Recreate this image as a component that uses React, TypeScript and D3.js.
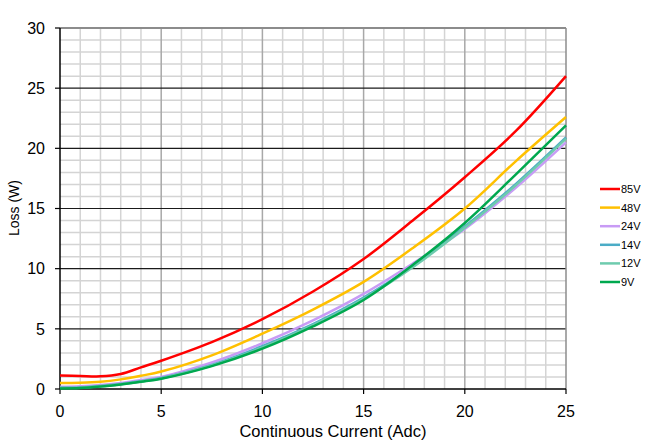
import React from "react";
import * as d3 from "d3";

const currents = [0, 1, 2, 3, 4, 5, 7.5, 10, 12.5, 15, 17.5, 20, 22.5, 25];
const loss85V = [1.12, 1.08, 1.05, 1.25, 1.8, 2.35, 3.9, 5.8, 8.1, 10.8, 14.1, 17.6, 21.4, 26.0];
const loss48V = [0.5, 0.52, 0.6, 0.8, 1.1, 1.45, 2.8, 4.6, 6.6, 8.9, 11.8, 15.0, 18.9, 22.6];
const loss24V = [0.18, 0.22, 0.33, 0.5, 0.75, 1.0, 2.2, 3.8, 5.7, 7.9, 10.5, 13.3, 16.7, 20.5];
const loss14V = [0.1, 0.13, 0.25, 0.42, 0.65, 0.92, 2.0, 3.55, 5.4, 7.6, 10.3, 13.5, 17.0, 20.9];
const loss12V = [0.08, 0.11, 0.22, 0.4, 0.62, 0.88, 1.95, 3.45, 5.3, 7.5, 10.2, 13.4, 16.9, 20.8];
const loss9V = [0.05, 0.08, 0.2, 0.38, 0.6, 0.85, 1.9, 3.35, 5.2, 7.4, 10.4, 13.8, 17.8, 21.9];

const seriesNames = ["85V", "48V", "24V", "14V", "12V", "9V"];
const seriesValues = [loss85V, loss48V, loss24V, loss14V, loss12V, loss9V];
const seriesColors = ["#FF0000", "#FFC000", "#C89BF5", "#4BACC6", "#6ECBAE", "#00A84F"];

const xTicks = [0, 5, 10, 15, 20, 25];
const yTicks = [0, 5, 10, 15, 20, 25, 30];

export default function App() {
  const W = 654, H = 444;
  const left = 60, right = 566, top = 28, bottom = 389;
  const x = d3.scaleLinear().domain([0, 25]).range([left, right]);
  const y = d3.scaleLinear().domain([0, 30]).range([bottom, top]);
  const minorX = d3.range(1, 25).filter((v) => v % 5 !== 0);
  const minorY = d3.range(1, 30).filter((v) => v % 5 !== 0);
  const majorX = [5, 10, 15, 20];
  const majorY = [5, 10, 15, 20, 25];
  const line = d3
    .line<number>()
    .x((_, i) => x(currents[i]))
    .y((d) => y(d))
    .curve(d3.curveCatmullRom.alpha(0.5));
  const font = "'Liberation Sans', Arial, sans-serif";

  return (
    <svg width={W} height={H} style={{ position: "absolute", left: 0, top: 0 }} fontFamily={font}>
      <rect width={W} height={H} fill="#fff" />
      {minorX.map((v) => (
        <line key={"mx" + v} x1={x(v)} x2={x(v)} y1={top} y2={bottom} stroke="#d4d4d4" strokeWidth={1.5} />
      ))}
      {minorY.map((v) => (
        <line key={"my" + v} x1={left} x2={right} y1={y(v)} y2={y(v)} stroke="#d4d4d4" strokeWidth={1.5} />
      ))}
      {majorX.map((v) => (
        <line key={"Mx" + v} x1={x(v)} x2={x(v)} y1={top} y2={bottom} stroke="#a8a8a8" strokeWidth={1.5} />
      ))}
      {majorY.map((v) => (
        <line key={"My" + v} x1={left} x2={right} y1={y(v)} y2={y(v)} stroke="#1a1a1a" strokeWidth={1.2} />
      ))}
      <line x1={left} x2={right} y1={top} y2={top} stroke="#8c8c8c" strokeWidth={2} />
      <line x1={right} x2={right} y1={top} y2={bottom} stroke="#8c8c8c" strokeWidth={1.5} />
      <line x1={left} x2={left} y1={top} y2={bottom} stroke="#000" strokeWidth={1.5} />
      <line x1={left} x2={right} y1={bottom} y2={bottom} stroke="#000" strokeWidth={1.5} />
      {yTicks.map((v) => (
        <g key={"yt" + v}>
          <line x1={left - 5} x2={left} y1={y(v)} y2={y(v)} stroke="#000" strokeWidth={1.2} />
          <text x={45} y={y(v)} dy="0.36em" textAnchor="end" fontSize={16} fill="#000">
            {v}
          </text>
        </g>
      ))}
      {xTicks.map((v) => (
        <g key={"xt" + v}>
          <line x1={x(v)} x2={x(v)} y1={bottom} y2={bottom + 5} stroke="#000" strokeWidth={1.2} />
          <text x={x(v)} y={417} textAnchor="middle" fontSize={16} fill="#000">
            {v}
          </text>
        </g>
      ))}
      <text x={333} y={437} textAnchor="middle" fontSize={16.5} fill="#000">
        Continuous Current (Adc)
      </text>
      <text transform="translate(19,208) rotate(-90)" textAnchor="middle" fontSize={14} fill="#000">
        Loss (W)
      </text>
      <g clipPath="url(#plotclip)">
        {seriesValues.map((vals, i) => (
          <path key={seriesNames[i]} d={line(vals) || ""} fill="none" stroke={seriesColors[i]} strokeWidth={2.5} />
        ))}
      </g>
      <defs>
        <clipPath id="plotclip">
          <rect x={left} y={top} width={right - left + 1} height={bottom - top + 2} />
        </clipPath>
      </defs>
      {seriesNames.map((n, i) => {
        const ly = 189 + i * 18.6;
        return (
          <g key={"lg" + n}>
            <line x1={600} x2={620} y1={ly} y2={ly} stroke={seriesColors[i]} strokeWidth={2.5} />
            <text x={621} y={ly} dy="0.36em" fontSize={11} fill="#000">
              {n}
            </text>
          </g>
        );
      })}
    </svg>
  );
}
